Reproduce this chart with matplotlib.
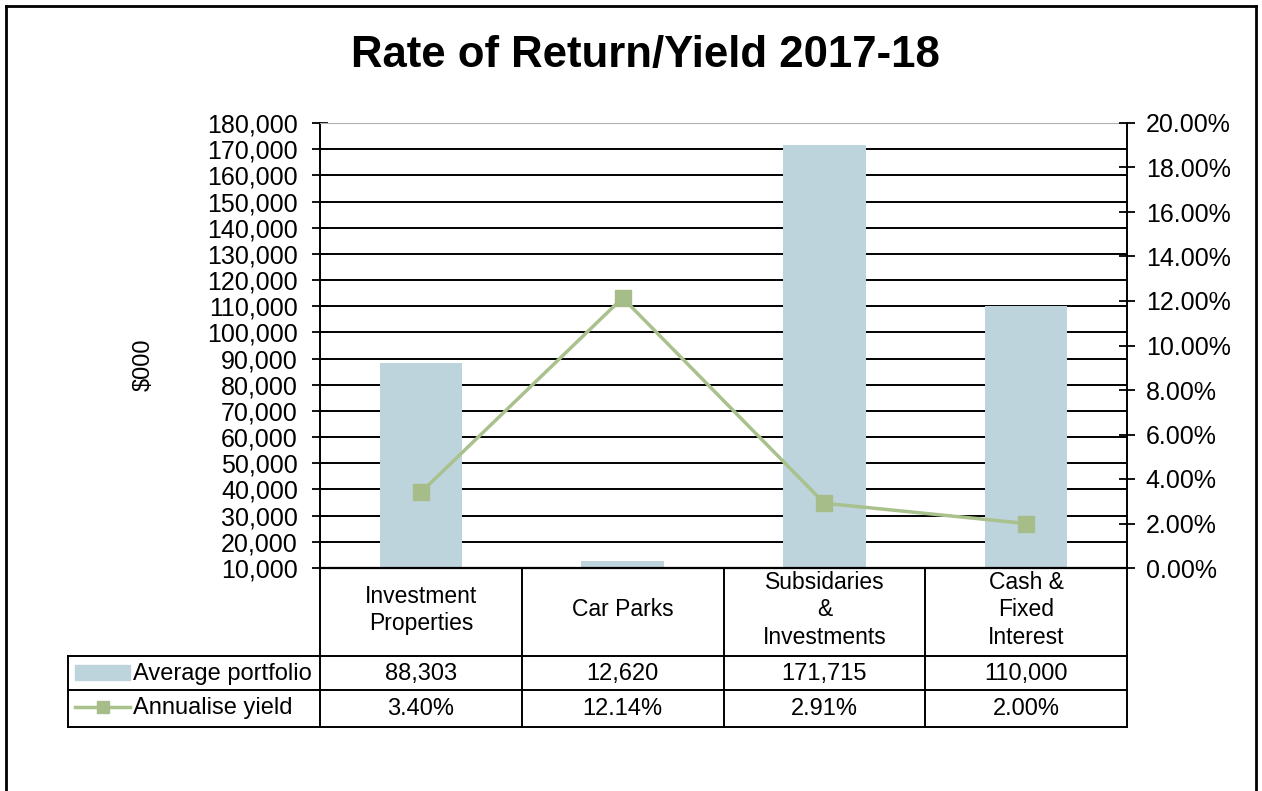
import numpy as np
import matplotlib
matplotlib.use("Agg")
import matplotlib.pyplot as plt
from matplotlib.lines import Line2D
from matplotlib.patches import Rectangle
from matplotlib.ticker import FuncFormatter, MultipleLocator

categories = ["Investment\nProperties", "Car Parks", "Subsidaries\n&\nInvestments", "Cash &\nFixed\nInterest"]
avg_portfolio = [88303, 12620, 171715, 110000]
annual_yield = [0.0340, 0.1214, 0.0291, 0.0200]
series_names = ["Average portfolio", "Annualise yield"]

bar_color = "#bdd4dc"
line_color = "#a9c18c"

plt.rcParams["font.family"] = ["Liberation Sans", "DejaVu Sans"]

W, H = 1262, 791
fig = plt.figure(figsize=(W / 100, H / 100), dpi=100)


def px_rect(l, t, r, b):
    return [l / W, 1 - b / H, (r - l) / W, (b - t) / H]


# outer frame (no bottom edge visible)
for xs, ys in [([6, 6], [6, 800]), ([1256, 1256], [6, 800]), ([6, 1256], [6, 6])]:
    fig.add_artist(Line2D([x / W for x in xs], [1 - y / H for y in ys],
                          color="black", lw=2, transform=fig.transFigure))

fig.text(645 / W, 1 - 55 / H, "Rate of Return/Yield 2017-18",
         ha="center", va="center", fontsize=31.5, fontweight="bold")

ax = fig.add_axes(px_rect(320, 123, 1127, 568))
x = np.arange(len(categories))
ax.bar(x, avg_portfolio, width=0.41, color=bar_color, zorder=2)
ax.set_xlim(-0.5, len(categories) - 0.5)
ax.set_ylim(10000, 180000)
ax.yaxis.set_major_locator(MultipleLocator(10000))
ax.yaxis.set_major_formatter(FuncFormatter(lambda v, p: f"{v:,.0f}"))
ax.set_xticks([])
ax.tick_params(axis="y", direction="inout", length=11, width=1.3, pad=10.5,
               labelsize=18)
ax.yaxis.grid(True, color="black", lw=1.4, zorder=1)
ax.set_axisbelow(True)
gl = ax.yaxis.get_gridlines()
if gl:
    gl[-1].set_color("#b0b0b0")
ax.spines["top"].set_color("#b0b0b0")
ax.spines["left"].set_linewidth(1.4)
ax.spines["bottom"].set_linewidth(1.6)
ax.spines["right"].set_visible(False)
ax.set_ylabel("$000", fontsize=17)
ax.yaxis.set_label_coords((155 - 320) / 807, (568 - 365) / 445)

ax2 = ax.twinx()
ax2.plot(x, annual_yield, color=line_color, lw=2.5, marker="s", markersize=11,
         markerfacecolor="#a6bc89", markeredgecolor="#a6bc89", zorder=3)
ax2.set_ylim(0, 0.20)
ax2.yaxis.set_major_locator(MultipleLocator(0.02))
ax2.yaxis.set_major_formatter(FuncFormatter(lambda v, p: f"{v * 100:.2f}%"))
ax2.tick_params(axis="y", direction="inout", length=11, width=1.3, pad=8,
                labelsize=18)
for s in ["top", "left", "bottom"]:
    ax2.spines[s].set_visible(False)
ax2.spines["right"].set_linewidth(1.4)

# data table under the plot, in category units across, pixels down
tab = fig.add_axes(px_rect(320, 568, 1127, 727))
tab.set_xlim(-0.5, len(categories) - 0.5)
tab.set_ylim(159, 0)
tab.axis("off")
colw = 807 / len(categories)
left = -0.5 - (320 - 68) / colw
lk = dict(color="black", lw=1.4, clip_on=False)
for k in range(len(categories) + 1):
    tab.plot([k - 0.5, k - 0.5], [0, 159], **lk)
for yy in [88, 122, 159]:
    tab.plot([left, len(categories) - 0.5], [yy, yy], **lk)
tab.plot([left, left], [88, 159], **lk)

for i, c in enumerate(categories):
    tab.text(i, 42, c, ha="center", va="center", fontsize=16.5, linespacing=1.25)
    tab.text(i, 106, f"{avg_portfolio[i]:,}", ha="center", va="center", fontsize=17)
    tab.text(i, 141, f"{annual_yield[i] * 100:.2f}%", ha="center", va="center", fontsize=17)

kx0 = left + 7 / colw
kx1 = left + 62 / colw
tab.add_patch(Rectangle((kx0, 97), kx1 - kx0, 15, color=bar_color, clip_on=False))
tab.plot([kx0, kx1], [139, 139], color=line_color, lw=2.5, clip_on=False)
tab.plot([(kx0 + kx1) / 2], [139], marker="s", markersize=8, color="#a6bc89",
         clip_on=False)
tab.text(left + 65 / colw, 106, series_names[0], ha="left", va="center", fontsize=17)
tab.text(left + 65 / colw, 140, series_names[1], ha="left", va="center", fontsize=17)

fig.savefig("out.png", dpi=100)
